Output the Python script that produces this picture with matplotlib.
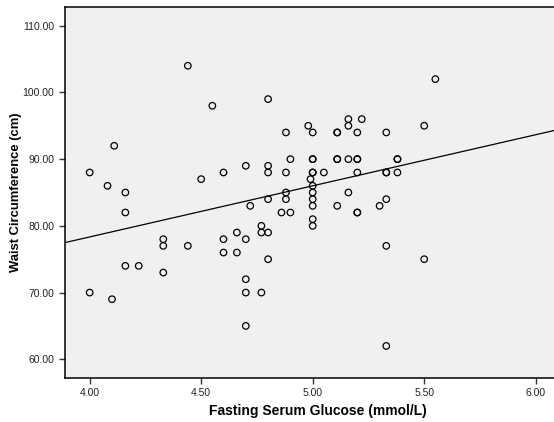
import matplotlib
matplotlib.use("Agg")
import matplotlib.pyplot as plt
import numpy as np

plt.rcParams['font.family'] = ['Liberation Sans', 'DejaVu Sans']

# fasting serum glucose (mmol/L)
glucose = [4.00, 4.00, 4.08, 4.11, 4.10, 4.16, 4.16, 4.16, 4.22,
           4.33, 4.33, 4.33, 4.44, 4.44, 4.50, 4.55,
           4.60, 4.60, 4.60, 4.66, 4.66,
           4.70, 4.70, 4.70, 4.70, 4.70, 4.72,
           4.77, 4.77, 4.77,
           4.80, 4.80, 4.80, 4.80, 4.80, 4.80,
           4.86, 4.88, 4.88, 4.88, 4.88, 4.90, 4.90,
           4.98, 4.99,
           5.00, 5.00, 5.00, 5.00, 5.00, 5.00, 5.00, 5.00, 5.00, 5.00, 5.00,
           5.05, 5.11, 5.11, 5.11, 5.11, 5.11,
           5.16, 5.16, 5.16, 5.16, 5.22,
           5.20, 5.20, 5.20, 5.20, 5.20, 5.20,
           5.30, 5.33, 5.33, 5.33, 5.33, 5.33, 5.33,
           5.38, 5.38, 5.38, 5.50, 5.50, 5.55]
# waist circumference (cm)
waist = [88, 70, 86, 92, 69, 85, 82, 74, 74,
         78, 77, 73, 104, 77, 87, 98,
         88, 78, 76, 79, 76,
         89, 78, 72, 70, 65, 83,
         80, 79, 70,
         99, 89, 88, 84, 79, 75,
         82, 94, 88, 85, 84, 90, 82,
         95, 87,
         94, 90, 90, 88, 86, 85, 84, 83, 81, 80, 88,
         88, 94, 94, 90, 90, 83,
         96, 95, 90, 85, 96,
         94, 90, 90, 88, 82, 82,
         83, 94, 88, 84, 77, 62, 88,
         90, 90, 88, 95, 75, 102]

# fit line coefficients
fit_intercept = 47.7
fit_slope = 7.66

fig = plt.figure(figsize=(5.54, 4.22), dpi=100)
ax = fig.add_axes([0.1168, 0.1050, 0.8832, 0.8777])
ax.set_facecolor('#f0f0f0')

ax.scatter(glucose, waist, s=22, facecolors='none', edgecolors='black',
           linewidths=0.9, zorder=3)

xs = np.array([3.888, 6.082])
ax.plot(xs, fit_intercept + fit_slope * xs, color='black', lw=0.9, zorder=2)

ax.set_xlim(3.888, 6.082)
ax.set_ylim(57.24, 112.76)
ax.set_xticks([4.0, 4.5, 5.0, 5.5, 6.0])
ax.set_yticks([60, 70, 80, 90, 100, 110])
ax.xaxis.set_major_formatter(lambda v, p: f"{v:.2f}")
ax.yaxis.set_major_formatter(lambda v, p: f"{v:.2f}")
ax.tick_params(labelsize=7.5, length=4, width=1, direction='out',
               color='#333333', labelcolor='#222222')
ax.spines['right'].set_visible(False)
for s in ['left', 'bottom', 'top']:
    ax.spines[s].set_linewidth(1.1)

ax.set_xlabel("Fasting Serum Glucose (mmol/L)", fontsize=10, fontweight='bold')
ax.set_ylabel("Waist Circumference (cm)", fontsize=9.4, fontweight='bold')
ax.xaxis.set_label_coords(0.518, -0.071)
ax.yaxis.set_label_coords(-0.088, 0.5)

fig.savefig("out.png", dpi=100)
